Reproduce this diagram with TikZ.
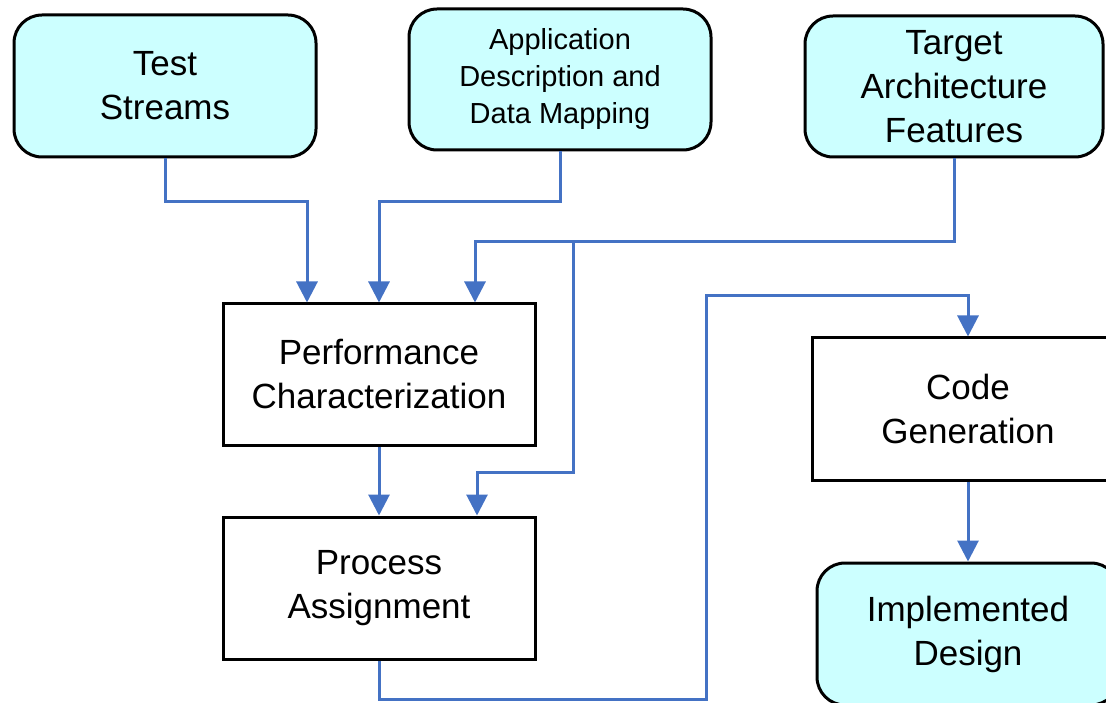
\documentclass[tikz,border=0pt]{standalone}
\usepackage{fontspec}
\setmainfont{Liberation Sans}
\usetikzlibrary{arrows.meta}
\definecolor{flowblue}{HTML}{4472C4}
\definecolor{paleCyan}{HTML}{CCFFFF}
\tikzset{
  basebox/.style={draw=black, line width=3pt, align=center, inner sep=0pt, font=\fontsize{35}{44}\selectfont},
  roundbox/.style={basebox, rounded corners=28pt, fill=paleCyan},
  squarebox/.style={basebox, fill=white},
  flow/.style={draw=flowblue, line width=3pt, -{Triangle[length=21pt,width=21pt]}},
  flowplain/.style={draw=flowblue, line width=3pt}
}
\begin{document}
\begin{tikzpicture}[x=1pt,y=-1pt]
\useasboundingbox (0,0) rectangle (1106,703);
\clip (0,0) rectangle (1106,703);
\node[roundbox, minimum width=302pt, minimum height=142pt] (ts) at (165,86) {Test\\Streams};
\node[roundbox, minimum width=302pt, minimum height=141pt, font=\fontsize{29}{37}\selectfont] (app) at (560,79.5) {Application\\Description and\\Data Mapping};
\node[roundbox, minimum width=298pt, minimum height=141pt] (tgt) at (954,86.5) {Target\\Architecture\\Features};
\node[squarebox, minimum width=312pt, minimum height=141pt] (perf) at (379,374.5) {Performance\\Characterization};
\node[squarebox, minimum width=312pt, minimum height=142pt] (proc) at (379,588) {Process\\Assignment};
\node[squarebox, minimum width=312pt, minimum height=142pt] (code) at (968,409) {Code\\Generation};
\node[roundbox, minimum width=302pt, minimum height=142pt] (impl) at (968,634) {Implemented\\Design};

\coordinate (j1) at (573,242);
\coordinate (j2) at (573,472);
\coordinate (b1) at (706,699);
\coordinate (b2) at (706,296);

\draw[flow] (ts.south) -- (ts.south |- 0,202) -| ([xshift=-72pt]perf.north);
\draw[flow] (app.south) -- (app.south |- 0,202) -| (perf.north);
\draw[flow] (tgt.south) -- (tgt.south |- j1) -| ([xshift=96pt]perf.north);
\draw[flow] (j1) -- (j2) -| ([xshift=98pt]proc.north);
\draw[flow] (perf.south) -- (proc.north);
\draw[flow] (proc.south) -- (proc.south |- b1) -- (b1) -- (b2) -| (code.north);
\draw[flow] (code.south) -- (impl.north);
\end{tikzpicture}
\end{document}
